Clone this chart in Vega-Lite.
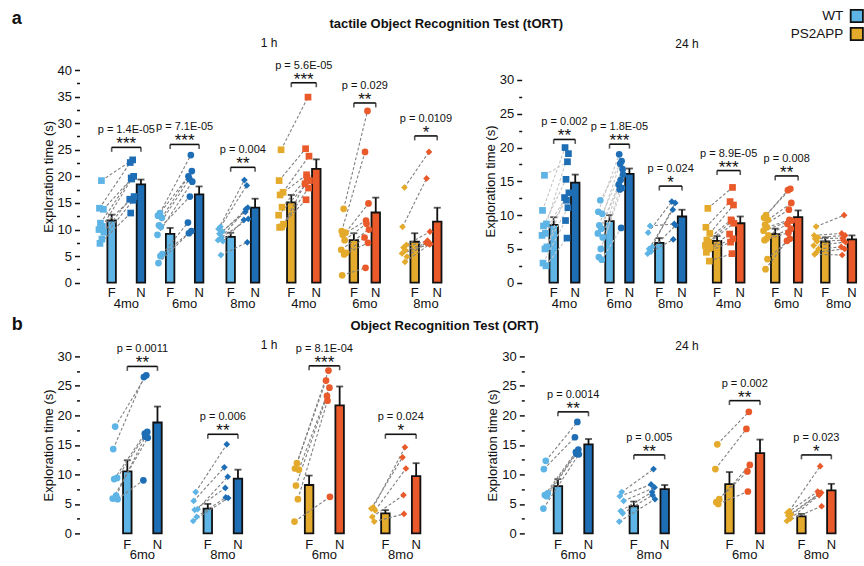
{
"$schema":"https://vega.github.io/schema/vega-lite/v6.json",
"autosize":{"type":"none"},
"padding":{"left":79.5,"top":70,"right":784.5,"bottom":496},
"bounds":"full",
"spacing":3.4,
"config":{"view":{"stroke":null},"font":"Liberation Sans","axis":{"grid":false},"title":{"color":"#111"}},
"datasets":{
"bars":[
{"p":"a1","g":1,"a":"4mo","geno":"WT","c":"F","x":27.9,"y":11.7,"e":12.8},
{"p":"a1","g":1,"a":"4mo","geno":"WT","c":"N","x":58.0,"y":18.5,"e":19.4},
{"p":"a1","g":2,"a":"6mo","geno":"WT","c":"F","x":88.0,"y":9.2,"e":10.3},
{"p":"a1","g":2,"a":"6mo","geno":"WT","c":"N","x":117.8,"y":16.6,"e":18.1},
{"p":"a1","g":3,"a":"8mo","geno":"WT","c":"F","x":150.2,"y":8.6,"e":9.4},
{"p":"a1","g":3,"a":"8mo","geno":"WT","c":"N","x":175.3,"y":14.1,"e":15.8},
{"p":"a1","g":4,"a":"4mo","geno":"PS2APP","c":"F","x":212.5,"y":15.1,"e":16.5},
{"p":"a1","g":4,"a":"4mo","geno":"PS2APP","c":"N","x":238.2,"y":21.4,"e":23.2},
{"p":"a1","g":5,"a":"6mo","geno":"PS2APP","c":"F","x":276.8,"y":8.0,"e":9.3},
{"p":"a1","g":5,"a":"6mo","geno":"PS2APP","c":"N","x":299.3,"y":13.2,"e":16.0},
{"p":"a1","g":6,"a":"8mo","geno":"PS2APP","c":"F","x":339.3,"y":7.7,"e":9.3},
{"p":"a1","g":6,"a":"8mo","geno":"PS2APP","c":"N","x":362.5,"y":11.5,"e":14.1},
{"p":"a24","g":1,"a":"4mo","geno":"WT","c":"F","x":27.8,"y":8.55,"e":9.7},
{"p":"a24","g":1,"a":"4mo","geno":"WT","c":"N","x":50.0,"y":14.8,"e":16.0},
{"p":"a24","g":2,"a":"6mo","geno":"WT","c":"F","x":85.3,"y":9.1,"e":10.0},
{"p":"a24","g":2,"a":"6mo","geno":"WT","c":"N","x":105.8,"y":16.1,"e":16.9},
{"p":"a24","g":3,"a":"8mo","geno":"WT","c":"F","x":136.6,"y":5.9,"e":6.6},
{"p":"a24","g":3,"a":"8mo","geno":"WT","c":"N","x":160.0,"y":9.8,"e":10.8},
{"p":"a24","g":4,"a":"4mo","geno":"PS2APP","c":"F","x":196.1,"y":6.2,"e":6.9},
{"p":"a24","g":4,"a":"4mo","geno":"PS2APP","c":"N","x":220.0,"y":8.8,"e":9.8},
{"p":"a24","g":5,"a":"6mo","geno":"PS2APP","c":"F","x":256.0,"y":7.2,"e":8.0},
{"p":"a24","g":5,"a":"6mo","geno":"PS2APP","c":"N","x":279.6,"y":9.7,"e":10.7},
{"p":"a24","g":6,"a":"8mo","geno":"PS2APP","c":"F","x":307.6,"y":6.1,"e":6.7},
{"p":"a24","g":6,"a":"8mo","geno":"PS2APP","c":"N","x":335.0,"y":6.4,"e":7.0},
{"p":"b1","g":1,"a":"6mo","geno":"WT","c":"F","x":44.0,"y":10.5,"e":12.4},
{"p":"b1","g":1,"a":"6mo","geno":"WT","c":"N","x":75.0,"y":18.8,"e":21.5},
{"p":"b1","g":2,"a":"8mo","geno":"WT","c":"F","x":126.7,"y":4.2,"e":5.0},
{"p":"b1","g":2,"a":"8mo","geno":"WT","c":"N","x":157.7,"y":9.3,"e":10.8},
{"p":"b1","g":3,"a":"6mo","geno":"PS2APP","c":"F","x":230.8,"y":8.2,"e":9.8},
{"p":"b1","g":3,"a":"6mo","geno":"PS2APP","c":"N","x":262.2,"y":21.7,"e":24.9},
{"p":"b1","g":4,"a":"8mo","geno":"PS2APP","c":"F","x":309.2,"y":3.4,"e":3.95},
{"p":"b1","g":4,"a":"8mo","geno":"PS2APP","c":"N","x":340.8,"y":9.7,"e":11.9},
{"p":"b24","g":1,"a":"6mo","geno":"WT","c":"F","x":29.5,"y":8.0,"e":9.2},
{"p":"b24","g":1,"a":"6mo","geno":"WT","c":"N","x":61.0,"y":15.1,"e":16.0},
{"p":"b24","g":2,"a":"8mo","geno":"WT","c":"F","x":107.7,"y":4.6,"e":5.4},
{"p":"b24","g":2,"a":"8mo","geno":"WT","c":"N","x":139.5,"y":7.5,"e":8.2},
{"p":"b24","g":3,"a":"6mo","geno":"PS2APP","c":"F","x":206.2,"y":8.35,"e":10.4},
{"p":"b24","g":3,"a":"6mo","geno":"PS2APP","c":"N","x":237.7,"y":13.6,"e":15.9},
{"p":"b24","g":4,"a":"8mo","geno":"PS2APP","c":"F","x":280.4,"y":2.9,"e":3.3},
{"p":"b24","g":4,"a":"8mo","geno":"PS2APP","c":"N","x":311.2,"y":7.3,"e":8.4}
],
"an":[
{"p":"a1","g":1,"a":"4mo","geno":"WT","xf":17.4,"f":19.2,"xn":49.5,"n":23.1},
{"p":"a1","g":1,"a":"4mo","geno":"WT","xf":15.4,"f":14.0,"xn":47.0,"n":22.6},
{"p":"a1","g":1,"a":"4mo","geno":"WT","xf":19.4,"f":13.8,"xn":50.5,"n":20.0},
{"p":"a1","g":1,"a":"4mo","geno":"WT","xf":16.4,"f":11.2,"xn":48.0,"n":19.7},
{"p":"a1","g":1,"a":"4mo","geno":"WT","xf":18.4,"f":10.6,"xn":48.5,"n":19.5},
{"p":"a1","g":1,"a":"4mo","geno":"WT","xf":14.9,"f":10.0,"xn":51.0,"n":16.2},
{"p":"a1","g":1,"a":"4mo","geno":"WT","xf":19.9,"f":9.5,"xn":46.5,"n":15.7},
{"p":"a1","g":1,"a":"4mo","geno":"WT","xf":17.9,"f":8.2,"xn":50.0,"n":15.5},
{"p":"a1","g":1,"a":"4mo","geno":"WT","xf":15.9,"f":7.4,"xn":47.5,"n":13.1},
{"p":"a1","g":2,"a":"6mo","geno":"WT","xf":77.5,"f":13.1,"xn":109.3,"n":24.0},
{"p":"a1","g":2,"a":"6mo","geno":"WT","xf":75.5,"f":12.6,"xn":106.8,"n":20.0},
{"p":"a1","g":2,"a":"6mo","geno":"WT","xf":79.5,"f":12.2,"xn":110.3,"n":21.0},
{"p":"a1","g":2,"a":"6mo","geno":"WT","xf":76.5,"f":10.8,"xn":107.8,"n":19.5},
{"p":"a1","g":2,"a":"6mo","geno":"WT","xf":78.5,"f":10.5,"xn":108.3,"n":16.2},
{"p":"a1","g":2,"a":"6mo","geno":"WT","xf":75.0,"f":9.0,"xn":110.8,"n":19.0},
{"p":"a1","g":2,"a":"6mo","geno":"WT","xf":80.0,"f":5.4,"xn":106.3,"n":11.3},
{"p":"a1","g":2,"a":"6mo","geno":"WT","xf":78.0,"f":5.0,"xn":109.8,"n":9.7},
{"p":"a1","g":2,"a":"6mo","geno":"WT","xf":76.0,"f":3.7,"xn":107.3,"n":9.3},
{"p":"a1","g":3,"a":"8mo","geno":"WT","xf":139.7,"f":10.5,"xn":166.8,"n":18.3},
{"p":"a1","g":3,"a":"8mo","geno":"WT","xf":137.7,"f":10.1,"xn":164.3,"n":19.3},
{"p":"a1","g":3,"a":"8mo","geno":"WT","xf":141.7,"f":9.6,"xn":167.8,"n":14.1},
{"p":"a1","g":3,"a":"8mo","geno":"WT","xf":138.7,"f":9.2,"xn":165.3,"n":13.3},
{"p":"a1","g":3,"a":"8mo","geno":"WT","xf":140.7,"f":8.5,"xn":165.8,"n":13.8},
{"p":"a1","g":3,"a":"8mo","geno":"WT","xf":137.2,"f":8.0,"xn":168.3,"n":12.0},
{"p":"a1","g":3,"a":"8mo","geno":"WT","xf":142.2,"f":7.8,"xn":163.8,"n":11.8},
{"p":"a1","g":3,"a":"8mo","geno":"WT","xf":140.2,"f":5.2,"xn":167.3,"n":7.6},
{"p":"a1","g":4,"a":"4mo","geno":"PS2APP","xf":202.0,"f":25.0,"xn":229.7,"n":34.9},
{"p":"a1","g":4,"a":"4mo","geno":"PS2APP","xf":200.0,"f":19.2,"xn":227.2,"n":25.2},
{"p":"a1","g":4,"a":"4mo","geno":"PS2APP","xf":204.0,"f":17.0,"xn":230.7,"n":23.8},
{"p":"a1","g":4,"a":"4mo","geno":"PS2APP","xf":201.0,"f":16.5,"xn":228.2,"n":20.3},
{"p":"a1","g":4,"a":"4mo","geno":"PS2APP","xf":203.0,"f":14.2,"xn":228.7,"n":19.7},
{"p":"a1","g":4,"a":"4mo","geno":"PS2APP","xf":199.5,"f":12.7,"xn":231.2,"n":19.2},
{"p":"a1","g":4,"a":"4mo","geno":"PS2APP","xf":204.5,"f":11.0,"xn":226.7,"n":18.6},
{"p":"a1","g":4,"a":"4mo","geno":"PS2APP","xf":202.5,"f":10.5,"xn":230.2,"n":17.8},
{"p":"a1","g":4,"a":"4mo","geno":"PS2APP","xf":200.5,"f":10.4,"xn":227.7,"n":15.6},
{"p":"a1","g":5,"a":"6mo","geno":"PS2APP","xf":266.3,"f":13.9,"xn":290.8,"n":32.3},
{"p":"a1","g":5,"a":"6mo","geno":"PS2APP","xf":264.3,"f":9.7,"xn":288.3,"n":24.6},
{"p":"a1","g":5,"a":"6mo","geno":"PS2APP","xf":268.3,"f":9.4,"xn":291.8,"n":14.9},
{"p":"a1","g":5,"a":"6mo","geno":"PS2APP","xf":265.3,"f":9.0,"xn":289.3,"n":11.7},
{"p":"a1","g":5,"a":"6mo","geno":"PS2APP","xf":267.3,"f":8.0,"xn":289.8,"n":11.1},
{"p":"a1","g":5,"a":"6mo","geno":"PS2APP","xf":263.8,"f":6.2,"xn":292.3,"n":10.0},
{"p":"a1","g":5,"a":"6mo","geno":"PS2APP","xf":268.8,"f":5.6,"xn":287.8,"n":8.5},
{"p":"a1","g":5,"a":"6mo","geno":"PS2APP","xf":266.8,"f":5.3,"xn":291.3,"n":7.5},
{"p":"a1","g":5,"a":"6mo","geno":"PS2APP","xf":264.8,"f":1.4,"xn":288.8,"n":2.8},
{"p":"a1","g":6,"a":"8mo","geno":"PS2APP","xf":328.8,"f":17.9,"xn":354.0,"n":24.6},
{"p":"a1","g":6,"a":"8mo","geno":"PS2APP","xf":326.8,"f":10.5,"xn":351.5,"n":19.6},
{"p":"a1","g":6,"a":"8mo","geno":"PS2APP","xf":330.8,"f":7.1,"xn":355.0,"n":9.6},
{"p":"a1","g":6,"a":"8mo","geno":"PS2APP","xf":327.8,"f":6.6,"xn":352.5,"n":7.9},
{"p":"a1","g":6,"a":"8mo","geno":"PS2APP","xf":329.8,"f":6.1,"xn":353.0,"n":7.5},
{"p":"a1","g":6,"a":"8mo","geno":"PS2APP","xf":326.3,"f":5.5,"xn":355.5,"n":7.3},
{"p":"a1","g":6,"a":"8mo","geno":"PS2APP","xf":331.3,"f":4.9,"xn":351.0,"n":7.5},
{"p":"a1","g":6,"a":"8mo","geno":"PS2APP","xf":329.3,"f":3.9,"xn":354.5,"n":7.2},
{"p":"a24","g":1,"a":"4mo","geno":"WT","xf":18.3,"f":15.9,"xn":42.0,"n":17.9},
{"p":"a24","g":1,"a":"4mo","geno":"WT","xf":16.3,"f":10.7,"xn":39.5,"n":20.0},
{"p":"a24","g":1,"a":"4mo","geno":"WT","xf":20.3,"f":8.7,"xn":43.0,"n":19.1},
{"p":"a24","g":1,"a":"4mo","geno":"WT","xf":17.3,"f":8.4,"xn":40.5,"n":15.3},
{"p":"a24","g":1,"a":"4mo","geno":"WT","xf":19.3,"f":7.3,"xn":41.0,"n":12.2},
{"p":"a24","g":1,"a":"4mo","geno":"WT","xf":15.8,"f":7.0,"xn":43.5,"n":13.3},
{"p":"a24","g":1,"a":"4mo","geno":"WT","xf":20.8,"f":5.3,"xn":39.0,"n":12.6},
{"p":"a24","g":1,"a":"4mo","geno":"WT","xf":18.8,"f":5.0,"xn":42.5,"n":11.1},
{"p":"a24","g":1,"a":"4mo","geno":"WT","xf":16.8,"f":2.9,"xn":40.0,"n":9.2},
{"p":"a24","g":1,"a":"4mo","geno":"WT","xf":19.8,"f":2.5,"xn":41.5,"n":6.6},
{"p":"a24","g":2,"a":"6mo","geno":"WT","xf":75.8,"f":12.2,"xn":97.8,"n":18.0},
{"p":"a24","g":2,"a":"6mo","geno":"WT","xf":73.8,"f":10.5,"xn":95.3,"n":19.0},
{"p":"a24","g":2,"a":"6mo","geno":"WT","xf":77.8,"f":10.2,"xn":98.8,"n":16.8},
{"p":"a24","g":2,"a":"6mo","geno":"WT","xf":74.8,"f":8.5,"xn":96.3,"n":17.6},
{"p":"a24","g":2,"a":"6mo","geno":"WT","xf":76.8,"f":8.0,"xn":96.8,"n":15.2},
{"p":"a24","g":2,"a":"6mo","geno":"WT","xf":73.3,"f":7.3,"xn":99.3,"n":16.0},
{"p":"a24","g":2,"a":"6mo","geno":"WT","xf":78.3,"f":6.7,"xn":94.8,"n":14.5},
{"p":"a24","g":2,"a":"6mo","geno":"WT","xf":76.3,"f":5.0,"xn":98.3,"n":14.0},
{"p":"a24","g":2,"a":"6mo","geno":"WT","xf":74.3,"f":3.8,"xn":95.8,"n":13.8},
{"p":"a24","g":2,"a":"6mo","geno":"WT","xf":77.3,"f":3.4,"xn":97.3,"n":8.1},
{"p":"a24","g":3,"a":"8mo","geno":"WT","xf":127.1,"f":8.4,"xn":152.0,"n":8.7},
{"p":"a24","g":3,"a":"8mo","geno":"WT","xf":125.1,"f":7.4,"xn":149.5,"n":12.0},
{"p":"a24","g":3,"a":"8mo","geno":"WT","xf":129.1,"f":5.3,"xn":153.0,"n":11.8},
{"p":"a24","g":3,"a":"8mo","geno":"WT","xf":126.1,"f":5.0,"xn":150.5,"n":10.8},
{"p":"a24","g":3,"a":"8mo","geno":"WT","xf":128.1,"f":4.6,"xn":151.0,"n":6.4},
{"p":"a24","g":3,"a":"8mo","geno":"WT","xf":124.6,"f":4.3,"xn":153.5,"n":8.5},
{"p":"a24","g":4,"a":"4mo","geno":"PS2APP","xf":186.6,"f":11.0,"xn":212.0,"n":14.1},
{"p":"a24","g":4,"a":"4mo","geno":"PS2APP","xf":184.6,"f":8.2,"xn":209.5,"n":12.0},
{"p":"a24","g":4,"a":"4mo","geno":"PS2APP","xf":188.6,"f":7.3,"xn":213.0,"n":11.5},
{"p":"a24","g":4,"a":"4mo","geno":"PS2APP","xf":185.6,"f":6.3,"xn":210.5,"n":9.3},
{"p":"a24","g":4,"a":"4mo","geno":"PS2APP","xf":187.6,"f":6.0,"xn":211.0,"n":9.1},
{"p":"a24","g":4,"a":"4mo","geno":"PS2APP","xf":184.1,"f":5.5,"xn":213.5,"n":8.8},
{"p":"a24","g":4,"a":"4mo","geno":"PS2APP","xf":189.1,"f":5.2,"xn":209.0,"n":7.2},
{"p":"a24","g":4,"a":"4mo","geno":"PS2APP","xf":187.1,"f":5.0,"xn":212.5,"n":6.5},
{"p":"a24","g":4,"a":"4mo","geno":"PS2APP","xf":185.1,"f":4.5,"xn":210.0,"n":6.0},
{"p":"a24","g":4,"a":"4mo","geno":"PS2APP","xf":188.1,"f":3.2,"xn":211.5,"n":4.3},
{"p":"a24","g":5,"a":"6mo","geno":"PS2APP","xf":246.5,"f":10.0,"xn":271.6,"n":13.9},
{"p":"a24","g":5,"a":"6mo","geno":"PS2APP","xf":244.5,"f":9.6,"xn":269.1,"n":13.7},
{"p":"a24","g":5,"a":"6mo","geno":"PS2APP","xf":248.5,"f":9.3,"xn":272.6,"n":11.8},
{"p":"a24","g":5,"a":"6mo","geno":"PS2APP","xf":245.5,"f":8.6,"xn":270.1,"n":10.8},
{"p":"a24","g":5,"a":"6mo","geno":"PS2APP","xf":247.5,"f":8.2,"xn":270.6,"n":9.3},
{"p":"a24","g":5,"a":"6mo","geno":"PS2APP","xf":244.0,"f":7.7,"xn":273.1,"n":9.2},
{"p":"a24","g":5,"a":"6mo","geno":"PS2APP","xf":249.0,"f":7.0,"xn":268.6,"n":8.7},
{"p":"a24","g":5,"a":"6mo","geno":"PS2APP","xf":247.0,"f":6.5,"xn":272.1,"n":8.0},
{"p":"a24","g":5,"a":"6mo","geno":"PS2APP","xf":245.0,"f":6.3,"xn":269.6,"n":7.4},
{"p":"a24","g":5,"a":"6mo","geno":"PS2APP","xf":248.0,"f":3.5,"xn":271.1,"n":6.5},
{"p":"a24","g":5,"a":"6mo","geno":"PS2APP","xf":246.0,"f":2.0,"xn":268.1,"n":6.2},
{"p":"a24","g":6,"a":"8mo","geno":"PS2APP","xf":298.1,"f":8.3,"xn":327.0,"n":10.0},
{"p":"a24","g":6,"a":"8mo","geno":"PS2APP","xf":296.1,"f":7.0,"xn":324.5,"n":7.3},
{"p":"a24","g":6,"a":"8mo","geno":"PS2APP","xf":300.1,"f":6.7,"xn":328.0,"n":7.0},
{"p":"a24","g":6,"a":"8mo","geno":"PS2APP","xf":297.1,"f":6.5,"xn":325.5,"n":6.6},
{"p":"a24","g":6,"a":"8mo","geno":"PS2APP","xf":299.1,"f":6.1,"xn":326.0,"n":6.3},
{"p":"a24","g":6,"a":"8mo","geno":"PS2APP","xf":295.6,"f":5.5,"xn":328.5,"n":6.0},
{"p":"a24","g":6,"a":"8mo","geno":"PS2APP","xf":300.6,"f":5.0,"xn":324.0,"n":5.3},
{"p":"a24","g":6,"a":"8mo","geno":"PS2APP","xf":298.6,"f":4.5,"xn":327.5,"n":5.0},
{"p":"a24","g":6,"a":"8mo","geno":"PS2APP","xf":296.6,"f":4.2,"xn":325.0,"n":4.1},
{"p":"b1","g":1,"a":"6mo","geno":"WT","xf":31.5,"f":18.1,"xn":63.5,"n":26.8},
{"p":"b1","g":1,"a":"6mo","geno":"WT","xf":29.5,"f":14.3,"xn":61.0,"n":26.5},
{"p":"b1","g":1,"a":"6mo","geno":"WT","xf":33.5,"f":9.4,"xn":64.5,"n":17.2},
{"p":"b1","g":1,"a":"6mo","geno":"WT","xf":30.5,"f":9.2,"xn":62.0,"n":16.9},
{"p":"b1","g":1,"a":"6mo","geno":"WT","xf":32.5,"f":6.4,"xn":62.5,"n":16.4},
{"p":"b1","g":1,"a":"6mo","geno":"WT","xf":29.0,"f":5.9,"xn":65.0,"n":16.2},
{"p":"b1","g":1,"a":"6mo","geno":"WT","xf":34.0,"f":5.8,"xn":60.5,"n":9.0},
{"p":"b1","g":2,"a":"8mo","geno":"WT","xf":114.2,"f":7.0,"xn":146.2,"n":15.1},
{"p":"b1","g":2,"a":"8mo","geno":"WT","xf":112.2,"f":5.5,"xn":143.7,"n":11.2},
{"p":"b1","g":2,"a":"8mo","geno":"WT","xf":116.2,"f":4.1,"xn":147.2,"n":9.6},
{"p":"b1","g":2,"a":"8mo","geno":"WT","xf":113.2,"f":4.0,"xn":144.7,"n":7.7},
{"p":"b1","g":2,"a":"8mo","geno":"WT","xf":115.2,"f":2.8,"xn":145.2,"n":6.1},
{"p":"b1","g":2,"a":"8mo","geno":"WT","xf":111.7,"f":2.1,"xn":147.7,"n":6.0},
{"p":"b1","g":3,"a":"6mo","geno":"PS2APP","xf":218.3,"f":11.9,"xn":250.7,"n":27.6},
{"p":"b1","g":3,"a":"6mo","geno":"PS2APP","xf":216.3,"f":11.0,"xn":248.2,"n":25.9},
{"p":"b1","g":3,"a":"6mo","geno":"PS2APP","xf":220.3,"f":10.8,"xn":251.7,"n":24.7},
{"p":"b1","g":3,"a":"6mo","geno":"PS2APP","xf":217.3,"f":8.1,"xn":249.2,"n":23.3},
{"p":"b1","g":3,"a":"6mo","geno":"PS2APP","xf":219.3,"f":5.8,"xn":249.7,"n":22.5},
{"p":"b1","g":3,"a":"6mo","geno":"PS2APP","xf":215.8,"f":2.0,"xn":252.2,"n":6.2},
{"p":"b1","g":4,"a":"8mo","geno":"PS2APP","xf":296.7,"f":4.4,"xn":329.3,"n":14.6},
{"p":"b1","g":4,"a":"8mo","geno":"PS2APP","xf":294.7,"f":4.2,"xn":326.8,"n":12.9},
{"p":"b1","g":4,"a":"8mo","geno":"PS2APP","xf":298.7,"f":3.9,"xn":330.3,"n":11.0},
{"p":"b1","g":4,"a":"8mo","geno":"PS2APP","xf":295.7,"f":2.8,"xn":327.8,"n":6.5},
{"p":"b1","g":4,"a":"8mo","geno":"PS2APP","xf":297.7,"f":2.0,"xn":328.3,"n":3.3},
{"p":"b24","g":1,"a":"6mo","geno":"WT","xf":17.0,"f":12.3,"xn":49.5,"n":18.9},
{"p":"b24","g":1,"a":"6mo","geno":"WT","xf":15.0,"f":10.9,"xn":47.0,"n":16.3},
{"p":"b24","g":1,"a":"6mo","geno":"WT","xf":19.0,"f":6.8,"xn":50.5,"n":14.2},
{"p":"b24","g":1,"a":"6mo","geno":"WT","xf":16.0,"f":6.5,"xn":48.0,"n":13.8},
{"p":"b24","g":1,"a":"6mo","geno":"WT","xf":18.0,"f":6.3,"xn":48.5,"n":13.5},
{"p":"b24","g":1,"a":"6mo","geno":"WT","xf":14.5,"f":4.2,"xn":51.0,"n":13.4},
{"p":"b24","g":2,"a":"8mo","geno":"WT","xf":95.2,"f":7.0,"xn":128.0,"n":10.9},
{"p":"b24","g":2,"a":"8mo","geno":"WT","xf":93.2,"f":6.3,"xn":125.5,"n":8.3},
{"p":"b24","g":2,"a":"8mo","geno":"WT","xf":97.2,"f":5.5,"xn":129.0,"n":7.8},
{"p":"b24","g":2,"a":"8mo","geno":"WT","xf":94.2,"f":3.8,"xn":126.5,"n":7.0},
{"p":"b24","g":2,"a":"8mo","geno":"WT","xf":96.2,"f":3.4,"xn":127.0,"n":6.5},
{"p":"b24","g":2,"a":"8mo","geno":"WT","xf":92.7,"f":2.0,"xn":129.5,"n":5.8},
{"p":"b24","g":3,"a":"6mo","geno":"PS2APP","xf":193.7,"f":15.1,"xn":226.2,"n":20.6},
{"p":"b24","g":3,"a":"6mo","geno":"PS2APP","xf":191.7,"f":10.9,"xn":223.7,"n":17.7},
{"p":"b24","g":3,"a":"6mo","geno":"PS2APP","xf":195.7,"f":5.8,"xn":227.2,"n":11.6},
{"p":"b24","g":3,"a":"6mo","geno":"PS2APP","xf":192.7,"f":5.3,"xn":224.7,"n":10.5},
{"p":"b24","g":3,"a":"6mo","geno":"PS2APP","xf":194.7,"f":5.0,"xn":225.2,"n":7.1},
{"p":"b24","g":4,"a":"8mo","geno":"PS2APP","xf":267.9,"f":3.8,"xn":299.7,"n":11.4},
{"p":"b24","g":4,"a":"8mo","geno":"PS2APP","xf":265.9,"f":3.5,"xn":297.2,"n":7.1},
{"p":"b24","g":4,"a":"8mo","geno":"PS2APP","xf":269.9,"f":3.2,"xn":300.7,"n":6.9},
{"p":"b24","g":4,"a":"8mo","geno":"PS2APP","xf":266.9,"f":3.0,"xn":298.2,"n":6.7},
{"p":"b24","g":4,"a":"8mo","geno":"PS2APP","xf":268.9,"f":2.5,"xn":298.7,"n":6.5},
{"p":"b24","g":4,"a":"8mo","geno":"PS2APP","xf":265.4,"f":2.1,"xn":301.2,"n":4.6}
],
"sig":[
{"p":"a1","x1":27.9,"x2":58.0,"y":25.45,"s":"***","t":"p = 1.4E-05"},
{"p":"a1","x1":88.0,"x2":117.8,"y":26.0,"s":"***","t":"p = 7.1E-05"},
{"p":"a1","x1":150.2,"x2":175.3,"y":21.7,"s":"**","t":"p = 0.004"},
{"p":"a1","x1":212.5,"x2":238.2,"y":37.6,"s":"***","t":"p = 5.6E-05"},
{"p":"a1","x1":276.8,"x2":299.3,"y":33.8,"s":"**","t":"p = 0.029"},
{"p":"a1","x1":339.3,"x2":362.5,"y":27.6,"s":"*","t":"p = 0.0109"},
{"p":"a24","x1":27.8,"x2":50.0,"y":21.2,"s":"**","t":"p = 0.002"},
{"p":"a24","x1":85.3,"x2":105.8,"y":20.5,"s":"***","t":"p = 1.8E-05"},
{"p":"a24","x1":136.6,"x2":160.0,"y":14.3,"s":"*","t":"p = 0.024"},
{"p":"a24","x1":196.1,"x2":220.0,"y":16.6,"s":"***","t":"p = 8.9E-05"},
{"p":"a24","x1":256.0,"x2":279.6,"y":15.8,"s":"**","t":"p = 0.008"},
{"p":"b1","x1":44.0,"x2":75.0,"y":28.3,"s":"**","t":"p = 0.0011"},
{"p":"b1","x1":126.7,"x2":157.7,"y":16.8,"s":"**","t":"p = 0.006"},
{"p":"b1","x1":230.8,"x2":262.2,"y":28.4,"s":"***","t":"p = 8.1E-04"},
{"p":"b1","x1":309.2,"x2":340.8,"y":16.8,"s":"*","t":"p = 0.024"},
{"p":"b24","x1":29.5,"x2":61.0,"y":20.6,"s":"**","t":"p = 0.0014"},
{"p":"b24","x1":107.7,"x2":139.5,"y":13.3,"s":"**","t":"p = 0.005"},
{"p":"b24","x1":206.2,"x2":237.7,"y":22.5,"s":"**","t":"p = 0.002"},
{"p":"b24","x1":280.4,"x2":311.2,"y":13.3,"s":"*","t":"p = 0.023"}
]
},
"vconcat":[
{"title":{"text":"a","anchor":"start","frame":"group","fontSize":18,"fontWeight":"bold","dx":-67.8,"dy":10,"offset":0},
 "bounds":"flush",
 "vconcat":[
 {"title":{"text":"tactile Object Recognition Test (tORT)","anchor":"middle","frame":"bounds","fontSize":13,"fontWeight":"bold","dx":-6.6,"offset":6},
  "bounds":"flush","spacing":70.2,
  "hconcat":[
  {"width":372,"height":212.7,
   "title":{"text":"1 h","fontSize":12,"fontWeight":"normal","anchor":"middle","frame":"group","offset":11,"dx":3.5,"dy":1.7},
   "resolve":{"axis":{"y":"independent"}},
   "encoding":{"x":{"field":"x","type":"quantitative","scale":{"domain":[0,372],"nice":false,"zero":false},"axis":null},
               "y":{"field":"y","type":"quantitative","scale":{"domain":[0,40],"nice":false,"zero":true},"axis":null}},
   "layer":[
    {"data":{"values":[{}]},"mark":{"type":"rule","strokeWidth":1.8,"color":"#111"},
     "encoding":{"x":{"datum":0,"axis":null},"y":{"datum":0,"axis":{"orient":"left","values":[0,5,10,15,20,25,30,35,40],"domain":false,"grid":false,"tickSize":5,"tickWidth":1.5,"tickColor":"#111","labelFontSize":13,"labelColor":"#111","labelPadding":3,"title":"Exploration time (s)","titleFontSize":13,"titleFontWeight":"normal","titleColor":"#111","titlePadding":2}},"y2":{"datum":40}}},
    {"data":{"name":"bars"},"transform":[{"filter":"datum.p=='a1' && datum.c=='F'"}],
     "mark":{"type":"bar","width":8.5,"stroke":"#111","strokeWidth":1.8},
     "encoding":{"y":{"field":"y","type":"quantitative","axis":{"orient":"left","values":[2.5,7.5,12.5,17.5,22.5,27.5,32.5,37.5],"domain":false,"grid":false,"labels":false,"tickSize":3,"tickWidth":1.5,"tickColor":"#111","title":null}},
       "fill":{"field":"geno","type":"nominal","scale":{"domain":["WT","PS2APP"],"range":["#5DB4E5","#E4AA2B"]},"legend":{"title":null,"orient":"none","legendX":769.8,"legendY":-61.5,"direction":"vertical","symbolType":"square","symbolSize":150,"symbolStrokeColor":"#111","symbolStrokeWidth":1.8,"symbolOpacity":1,"labelFontSize":13.5,"labelColor":"#111","labelAlign":"right","labelOffset":-21,"rowPadding":-5.3,"padding":0}}}},
    {"data":{"name":"bars"},"transform":[{"filter":"datum.p=='a1' && datum.c=='N'"}],
     "mark":{"type":"bar","width":8.5,"stroke":"#111","strokeWidth":1.8},
     "encoding":{"color":{"field":"geno","type":"nominal","scale":{"domain":["WT","PS2APP"],"range":["#1E6EB6","#E9592A"]},"legend":null}}},
    {"data":{"name":"bars"},"transform":[{"filter":"datum.p=='a1'"}],
     "mark":{"type":"rule","strokeWidth":1.8,"color":"#111"},"encoding":{"y2":{"field":"e"}}},
    {"data":{"name":"bars"},"transform":[{"filter":"datum.p=='a1'"}],
     "mark":{"type":"tick","orient":"horizontal","size":7,"thickness":1.8,"color":"#111"},
     "encoding":{"y":{"field":"e","type":"quantitative","axis":null}}},
    {"data":{"name":"an"},"transform":[{"filter":"datum.p=='a1'"}],
     "mark":{"type":"rule","strokeDash":[3,2],"strokeWidth":1.1,"color":"#808080"},
     "encoding":{"x":{"field":"xf","type":"quantitative","axis":null},"y":{"field":"f","type":"quantitative","axis":null},"x2":{"field":"xn"},"y2":{"field":"n"}}},
    {"data":{"name":"an"},"transform":[{"filter":"datum.p=='a1'"}],
     "mark":{"type":"point","filled":true,"opacity":1,"strokeWidth":0},
     "encoding":{"x":{"field":"xf","type":"quantitative","axis":null},"y":{"field":"f","type":"quantitative","axis":null},
       "shape":{"field":"a","type":"nominal","scale":{"domain":["4mo","6mo","8mo"],"range":["square","circle","diamond"]},"legend":null},
       "size":{"field":"a","type":"ordinal","scale":{"domain":["4mo","6mo","8mo"],"range":[45,45,70]},"legend":null},
       "fill":{"field":"geno","type":"nominal","scale":{"domain":["WT","PS2APP"],"range":["#5DB4E5","#E4AA2B"]},"legend":{"title":null,"orient":"none","legendX":769.8,"legendY":-61.5,"direction":"vertical","symbolType":"square","symbolSize":150,"symbolStrokeColor":"#111","symbolStrokeWidth":1.8,"symbolOpacity":1,"labelFontSize":13.5,"labelColor":"#111","labelAlign":"right","labelOffset":-21,"rowPadding":-5.3,"padding":0}}}},
    {"data":{"name":"an"},"transform":[{"filter":"datum.p=='a1'"}],
     "mark":{"type":"point","filled":true,"opacity":1,"strokeWidth":0},
     "encoding":{"x":{"field":"xn","type":"quantitative","axis":null},"y":{"field":"n","type":"quantitative","axis":null},
       "shape":{"field":"a","type":"nominal","scale":{"domain":["4mo","6mo","8mo"],"range":["square","circle","diamond"]},"legend":null},
       "size":{"field":"a","type":"ordinal","scale":{"domain":["4mo","6mo","8mo"],"range":[45,45,70]},"legend":null},
       "color":{"field":"geno","type":"nominal","scale":{"domain":["WT","PS2APP"],"range":["#1E6EB6","#E9592A"]},"legend":null}}},
    {"data":{"name":"sig"},"transform":[{"filter":"datum.p=='a1'"}],
     "mark":{"type":"rule","strokeWidth":1.6,"color":"#111"},
     "encoding":{"x":{"field":"x1","type":"quantitative","axis":null},"x2":{"field":"x2"}}},
    {"data":{"name":"sig"},"transform":[{"filter":"datum.p=='a1'"},{"fold":["x1","x2"],"as":["k","xe"]}],
     "mark":{"type":"tick","orient":"vertical","size":4.5,"thickness":1.6,"yOffset":2.2,"color":"#111"},
     "encoding":{"x":{"field":"xe","type":"quantitative","axis":null}}},
    {"data":{"name":"sig"},"transform":[{"filter":"datum.p=='a1'"},{"calculate":"(datum.x1+datum.x2)/2","as":"xm"}],
     "mark":{"type":"text","fontSize":17,"dy":2,"baseline":"alphabetic","color":"#111"},
     "encoding":{"x":{"field":"xm","type":"quantitative","axis":null},"text":{"field":"s"}}},
    {"data":{"name":"sig"},"transform":[{"filter":"datum.p=='a1'"},{"calculate":"(datum.x1+datum.x2)/2","as":"xm"}],
     "mark":{"type":"text","fontSize":11,"dy":-14,"baseline":"alphabetic","color":"#111"},
     "encoding":{"x":{"field":"xm","type":"quantitative","axis":null},"text":{"field":"t"}}},
    {"data":{"name":"bars"},"transform":[{"filter":"datum.p=='a1'"}],
     "mark":{"type":"text","fontSize":13,"dy":14.5,"baseline":"alphabetic","color":"#111"},
     "encoding":{"y":{"datum":0,"axis":null},"text":{"field":"c"}}},
    {"data":{"name":"bars"},"transform":[{"filter":"datum.p=='a1'"},{"joinaggregate":[{"op":"mean","field":"x","as":"xa"}],"groupby":["g"]},{"filter":"datum.c=='F'"}],
     "mark":{"type":"text","fontSize":13,"dy":25.7,"baseline":"alphabetic","color":"#111"},
     "encoding":{"x":{"field":"xa","type":"quantitative","axis":null},"y":{"datum":0,"axis":null},"text":{"field":"a"}}}
   ]},
  {"width":342,"height":212.7,
   "title":{"text":"24 h","fontSize":12,"fontWeight":"normal","anchor":"middle","frame":"group","offset":21,"dx":-5.7,"dy":1.7},
   "resolve":{"axis":{"y":"independent"}},
   "encoding":{"x":{"field":"x","type":"quantitative","scale":{"domain":[0,342],"nice":false,"zero":false},"axis":null},
               "y":{"field":"y","type":"quantitative","scale":{"domain":[0,31.48],"nice":false,"zero":true},"axis":null}},
   "layer":[
    {"data":{"values":[{}]},"mark":{"type":"rule","strokeWidth":1.8,"color":"#111"},
     "encoding":{"x":{"datum":0,"axis":null},"y":{"datum":0,"axis":{"orient":"left","values":[0,5,10,15,20,25,30],"domain":false,"grid":false,"tickSize":5,"tickWidth":1.5,"tickColor":"#111","labelFontSize":13,"labelColor":"#111","labelPadding":3,"title":"Exploration time (s)","titleFontSize":13,"titleFontWeight":"normal","titleColor":"#111","titlePadding":2,"titleY":111}},"y2":{"datum":30}}},
    {"data":{"name":"bars"},"transform":[{"filter":"datum.p=='a24' && datum.c=='F'"}],
     "mark":{"type":"bar","width":8.5,"stroke":"#111","strokeWidth":1.8},
     "encoding":{"y":{"field":"y","type":"quantitative","axis":{"orient":"left","values":[2.5,7.5,12.5,17.5,22.5,27.5],"domain":false,"grid":false,"labels":false,"tickSize":3,"tickWidth":1.5,"tickColor":"#111","title":null}},
       "fill":{"field":"geno","type":"nominal","scale":{"domain":["WT","PS2APP"],"range":["#5DB4E5","#E4AA2B"]},"legend":{"title":null,"orient":"none","legendX":769.8,"legendY":-61.5,"direction":"vertical","symbolType":"square","symbolSize":150,"symbolStrokeColor":"#111","symbolStrokeWidth":1.8,"symbolOpacity":1,"labelFontSize":13.5,"labelColor":"#111","labelAlign":"right","labelOffset":-21,"rowPadding":-5.3,"padding":0}}}},
    {"data":{"name":"bars"},"transform":[{"filter":"datum.p=='a24' && datum.c=='N'"}],
     "mark":{"type":"bar","width":8.5,"stroke":"#111","strokeWidth":1.8},
     "encoding":{"color":{"field":"geno","type":"nominal","scale":{"domain":["WT","PS2APP"],"range":["#1E6EB6","#E9592A"]},"legend":null}}},
    {"data":{"name":"bars"},"transform":[{"filter":"datum.p=='a24'"}],
     "mark":{"type":"rule","strokeWidth":1.8,"color":"#111"},"encoding":{"y2":{"field":"e"}}},
    {"data":{"name":"bars"},"transform":[{"filter":"datum.p=='a24'"}],
     "mark":{"type":"tick","orient":"horizontal","size":7,"thickness":1.8,"color":"#111"},
     "encoding":{"y":{"field":"e","type":"quantitative","axis":null}}},
    {"data":{"name":"an"},"transform":[{"filter":"datum.p=='a24'"}],
     "mark":{"type":"rule","strokeDash":[3,2],"strokeWidth":1.1},
     "encoding":{"x":{"field":"xf","type":"quantitative","axis":null},"y":{"field":"f","type":"quantitative","axis":null},"x2":{"field":"xn"},"y2":{"field":"n"},
       "stroke":{"condition":{"test":"datum.g<=2","value":"#c6c6c6"},"value":"#808080"}}},
    {"data":{"name":"an"},"transform":[{"filter":"datum.p=='a24'"}],
     "mark":{"type":"point","filled":true,"opacity":1,"strokeWidth":0},
     "encoding":{"x":{"field":"xf","type":"quantitative","axis":null},"y":{"field":"f","type":"quantitative","axis":null},
       "shape":{"field":"a","type":"nominal","scale":{"domain":["4mo","6mo","8mo"],"range":["square","circle","diamond"]},"legend":null},
       "size":{"field":"a","type":"ordinal","scale":{"domain":["4mo","6mo","8mo"],"range":[45,45,70]},"legend":null},
       "fill":{"field":"geno","type":"nominal","scale":{"domain":["WT","PS2APP"],"range":["#5DB4E5","#E4AA2B"]},"legend":{"title":null,"orient":"none","legendX":769.8,"legendY":-61.5,"direction":"vertical","symbolType":"square","symbolSize":150,"symbolStrokeColor":"#111","symbolStrokeWidth":1.8,"symbolOpacity":1,"labelFontSize":13.5,"labelColor":"#111","labelAlign":"right","labelOffset":-21,"rowPadding":-5.3,"padding":0}}}},
    {"data":{"name":"an"},"transform":[{"filter":"datum.p=='a24'"}],
     "mark":{"type":"point","filled":true,"opacity":1,"strokeWidth":0},
     "encoding":{"x":{"field":"xn","type":"quantitative","axis":null},"y":{"field":"n","type":"quantitative","axis":null},
       "shape":{"field":"a","type":"nominal","scale":{"domain":["4mo","6mo","8mo"],"range":["square","circle","diamond"]},"legend":null},
       "size":{"field":"a","type":"ordinal","scale":{"domain":["4mo","6mo","8mo"],"range":[45,45,70]},"legend":null},
       "color":{"field":"geno","type":"nominal","scale":{"domain":["WT","PS2APP"],"range":["#1E6EB6","#E9592A"]},"legend":null}}},
    {"data":{"name":"sig"},"transform":[{"filter":"datum.p=='a24'"}],
     "mark":{"type":"rule","strokeWidth":1.6,"color":"#111"},
     "encoding":{"x":{"field":"x1","type":"quantitative","axis":null},"x2":{"field":"x2"}}},
    {"data":{"name":"sig"},"transform":[{"filter":"datum.p=='a24'"},{"fold":["x1","x2"],"as":["k","xe"]}],
     "mark":{"type":"tick","orient":"vertical","size":4.5,"thickness":1.6,"yOffset":2.2,"color":"#111"},
     "encoding":{"x":{"field":"xe","type":"quantitative","axis":null}}},
    {"data":{"name":"sig"},"transform":[{"filter":"datum.p=='a24'"},{"calculate":"(datum.x1+datum.x2)/2","as":"xm"}],
     "mark":{"type":"text","fontSize":17,"dy":2,"baseline":"alphabetic","color":"#111"},
     "encoding":{"x":{"field":"xm","type":"quantitative","axis":null},"text":{"field":"s"}}},
    {"data":{"name":"sig"},"transform":[{"filter":"datum.p=='a24'"},{"calculate":"(datum.x1+datum.x2)/2","as":"xm"}],
     "mark":{"type":"text","fontSize":11,"dy":-14,"baseline":"alphabetic","color":"#111"},
     "encoding":{"x":{"field":"xm","type":"quantitative","axis":null},"text":{"field":"t"}}},
    {"data":{"name":"bars"},"transform":[{"filter":"datum.p=='a24'"}],
     "mark":{"type":"text","fontSize":13,"dy":14.5,"baseline":"alphabetic","color":"#111"},
     "encoding":{"y":{"datum":0,"axis":null},"text":{"field":"c"}}},
    {"data":{"name":"bars"},"transform":[{"filter":"datum.p=='a24'"},{"joinaggregate":[{"op":"mean","field":"x","as":"xa"}],"groupby":["g"]},{"filter":"datum.c=='F'"}],
     "mark":{"type":"text","fontSize":13,"dy":25.7,"baseline":"alphabetic","color":"#111"},
     "encoding":{"x":{"field":"xa","type":"quantitative","axis":null},"y":{"datum":0,"axis":null},"text":{"field":"a"}}}
   ]}
  ]}
 ]},
{"title":{"text":"b","anchor":"start","frame":"group","fontSize":18,"fontWeight":"bold","dx":-67.8,"dy":14,"offset":0},
 "bounds":"flush",
 "vconcat":[
 {"title":{"text":"Object Recognition Test (ORT)","anchor":"middle","frame":"bounds","fontSize":13,"fontWeight":"bold","dx":-8.6,"offset":6},
  "bounds":"flush","spacing":72.8,
  "hconcat":[
  {"width":372,"height":177,
   "title":{"text":"1 h","fontSize":12,"fontWeight":"normal","anchor":"middle","frame":"group","offset":0,"dy":9.4,"dx":3.5},
   "resolve":{"axis":{"y":"independent"}},
   "encoding":{"x":{"field":"x","type":"quantitative","scale":{"domain":[0,372],"nice":false,"zero":false},"axis":null},
               "y":{"field":"y","type":"quantitative","scale":{"domain":[0,30],"nice":false,"zero":true},"axis":null}},
   "layer":[
    {"data":{"values":[{}]},"mark":{"type":"rule","strokeWidth":1.8,"color":"#111"},
     "encoding":{"x":{"datum":0,"axis":null},"y":{"datum":0,"axis":{"orient":"left","values":[0,5,10,15,20,25,30],"domain":false,"grid":false,"tickSize":5,"tickWidth":1.5,"tickColor":"#111","labelFontSize":13,"labelColor":"#111","labelPadding":3,"title":"Exploration time (s)","titleFontSize":13,"titleFontWeight":"normal","titleColor":"#111","titlePadding":2}},"y2":{"datum":30}}},
    {"data":{"name":"bars"},"transform":[{"filter":"datum.p=='b1' && datum.c=='F'"}],
     "mark":{"type":"bar","width":8.5,"stroke":"#111","strokeWidth":1.8},
     "encoding":{"y":{"field":"y","type":"quantitative","axis":{"orient":"left","values":[2.5,7.5,12.5,17.5,22.5,27.5],"domain":false,"grid":false,"labels":false,"tickSize":3,"tickWidth":1.5,"tickColor":"#111","title":null}},
       "fill":{"field":"geno","type":"nominal","scale":{"domain":["WT","PS2APP"],"range":["#5DB4E5","#E4AA2B"]},"legend":{"title":null,"orient":"none","legendX":769.8,"legendY":-61.5,"direction":"vertical","symbolType":"square","symbolSize":150,"symbolStrokeColor":"#111","symbolStrokeWidth":1.8,"symbolOpacity":1,"labelFontSize":13.5,"labelColor":"#111","labelAlign":"right","labelOffset":-21,"rowPadding":-5.3,"padding":0}}}},
    {"data":{"name":"bars"},"transform":[{"filter":"datum.p=='b1' && datum.c=='N'"}],
     "mark":{"type":"bar","width":8.5,"stroke":"#111","strokeWidth":1.8},
     "encoding":{"color":{"field":"geno","type":"nominal","scale":{"domain":["WT","PS2APP"],"range":["#1E6EB6","#E9592A"]},"legend":null}}},
    {"data":{"name":"bars"},"transform":[{"filter":"datum.p=='b1'"}],
     "mark":{"type":"rule","strokeWidth":1.8,"color":"#111"},"encoding":{"y2":{"field":"e"}}},
    {"data":{"name":"bars"},"transform":[{"filter":"datum.p=='b1'"}],
     "mark":{"type":"tick","orient":"horizontal","size":7,"thickness":1.8,"color":"#111"},
     "encoding":{"y":{"field":"e","type":"quantitative","axis":null}}},
    {"data":{"name":"an"},"transform":[{"filter":"datum.p=='b1'"}],
     "mark":{"type":"rule","strokeDash":[3,2],"strokeWidth":1.1,"color":"#808080"},
     "encoding":{"x":{"field":"xf","type":"quantitative","axis":null},"y":{"field":"f","type":"quantitative","axis":null},"x2":{"field":"xn"},"y2":{"field":"n"}}},
    {"data":{"name":"an"},"transform":[{"filter":"datum.p=='b1'"}],
     "mark":{"type":"point","filled":true,"opacity":1,"strokeWidth":0},
     "encoding":{"x":{"field":"xf","type":"quantitative","axis":null},"y":{"field":"f","type":"quantitative","axis":null},
       "shape":{"field":"a","type":"nominal","scale":{"domain":["4mo","6mo","8mo"],"range":["square","circle","diamond"]},"legend":null},
       "size":{"field":"a","type":"ordinal","scale":{"domain":["4mo","6mo","8mo"],"range":[45,45,70]},"legend":null},
       "fill":{"field":"geno","type":"nominal","scale":{"domain":["WT","PS2APP"],"range":["#5DB4E5","#E4AA2B"]},"legend":{"title":null,"orient":"none","legendX":769.8,"legendY":-61.5,"direction":"vertical","symbolType":"square","symbolSize":150,"symbolStrokeColor":"#111","symbolStrokeWidth":1.8,"symbolOpacity":1,"labelFontSize":13.5,"labelColor":"#111","labelAlign":"right","labelOffset":-21,"rowPadding":-5.3,"padding":0}}}},
    {"data":{"name":"an"},"transform":[{"filter":"datum.p=='b1'"}],
     "mark":{"type":"point","filled":true,"opacity":1,"strokeWidth":0},
     "encoding":{"x":{"field":"xn","type":"quantitative","axis":null},"y":{"field":"n","type":"quantitative","axis":null},
       "shape":{"field":"a","type":"nominal","scale":{"domain":["4mo","6mo","8mo"],"range":["square","circle","diamond"]},"legend":null},
       "size":{"field":"a","type":"ordinal","scale":{"domain":["4mo","6mo","8mo"],"range":[45,45,70]},"legend":null},
       "color":{"field":"geno","type":"nominal","scale":{"domain":["WT","PS2APP"],"range":["#1E6EB6","#E9592A"]},"legend":null}}},
    {"data":{"name":"sig"},"transform":[{"filter":"datum.p=='b1'"}],
     "mark":{"type":"rule","strokeWidth":1.6,"color":"#111"},
     "encoding":{"x":{"field":"x1","type":"quantitative","axis":null},"x2":{"field":"x2"}}},
    {"data":{"name":"sig"},"transform":[{"filter":"datum.p=='b1'"},{"fold":["x1","x2"],"as":["k","xe"]}],
     "mark":{"type":"tick","orient":"vertical","size":4.5,"thickness":1.6,"yOffset":2.2,"color":"#111"},
     "encoding":{"x":{"field":"xe","type":"quantitative","axis":null}}},
    {"data":{"name":"sig"},"transform":[{"filter":"datum.p=='b1'"},{"calculate":"(datum.x1+datum.x2)/2","as":"xm"}],
     "mark":{"type":"text","fontSize":17,"dy":2,"baseline":"alphabetic","color":"#111"},
     "encoding":{"x":{"field":"xm","type":"quantitative","axis":null},"text":{"field":"s"}}},
    {"data":{"name":"sig"},"transform":[{"filter":"datum.p=='b1'"},{"calculate":"(datum.x1+datum.x2)/2","as":"xm"}],
     "mark":{"type":"text","fontSize":11,"dy":-14,"baseline":"alphabetic","color":"#111"},
     "encoding":{"x":{"field":"xm","type":"quantitative","axis":null},"text":{"field":"t"}}},
    {"data":{"name":"bars"},"transform":[{"filter":"datum.p=='b1'"}],
     "mark":{"type":"text","fontSize":13,"dy":15.5,"baseline":"alphabetic","color":"#111"},
     "encoding":{"y":{"datum":0,"axis":null},"text":{"field":"c"}}},
    {"data":{"name":"bars"},"transform":[{"filter":"datum.p=='b1'"},{"joinaggregate":[{"op":"mean","field":"x","as":"xa"}],"groupby":["g"]},{"filter":"datum.c=='F'"}],
     "mark":{"type":"text","fontSize":13,"dy":25.7,"baseline":"alphabetic","color":"#111"},
     "encoding":{"x":{"field":"xa","type":"quantitative","axis":null},"y":{"datum":0,"axis":null},"text":{"field":"a"}}}
   ]},
  {"width":340,"height":177,
   "title":{"text":"24 h","fontSize":12,"fontWeight":"normal","anchor":"middle","frame":"group","offset":5,"dx":-7.3,"dy":7.4},
   "resolve":{"axis":{"y":"independent"}},
   "encoding":{"x":{"field":"x","type":"quantitative","scale":{"domain":[0,340],"nice":false,"zero":false},"axis":null},
               "y":{"field":"y","type":"quantitative","scale":{"domain":[0,30],"nice":false,"zero":true},"axis":null}},
   "layer":[
    {"data":{"values":[{}]},"mark":{"type":"rule","strokeWidth":1.8,"color":"#111"},
     "encoding":{"x":{"datum":0,"axis":null},"y":{"datum":0,"axis":{"orient":"left","values":[0,5,10,15,20,25,30],"domain":false,"grid":false,"tickSize":5,"tickWidth":1.5,"tickColor":"#111","labelFontSize":13,"labelColor":"#111","labelPadding":3,"title":"Exploration time (s)","titleFontSize":13,"titleFontWeight":"normal","titleColor":"#111","titlePadding":2}},"y2":{"datum":30}}},
    {"data":{"name":"bars"},"transform":[{"filter":"datum.p=='b24' && datum.c=='F'"}],
     "mark":{"type":"bar","width":8.5,"stroke":"#111","strokeWidth":1.8},
     "encoding":{"y":{"field":"y","type":"quantitative","axis":{"orient":"left","values":[2.5,7.5,12.5,17.5,22.5,27.5],"domain":false,"grid":false,"labels":false,"tickSize":3,"tickWidth":1.5,"tickColor":"#111","title":null}},
       "fill":{"field":"geno","type":"nominal","scale":{"domain":["WT","PS2APP"],"range":["#5DB4E5","#E4AA2B"]},"legend":{"title":null,"orient":"none","legendX":769.8,"legendY":-61.5,"direction":"vertical","symbolType":"square","symbolSize":150,"symbolStrokeColor":"#111","symbolStrokeWidth":1.8,"symbolOpacity":1,"labelFontSize":13.5,"labelColor":"#111","labelAlign":"right","labelOffset":-21,"rowPadding":-5.3,"padding":0}}}},
    {"data":{"name":"bars"},"transform":[{"filter":"datum.p=='b24' && datum.c=='N'"}],
     "mark":{"type":"bar","width":8.5,"stroke":"#111","strokeWidth":1.8},
     "encoding":{"color":{"field":"geno","type":"nominal","scale":{"domain":["WT","PS2APP"],"range":["#1E6EB6","#E9592A"]},"legend":null}}},
    {"data":{"name":"bars"},"transform":[{"filter":"datum.p=='b24'"}],
     "mark":{"type":"rule","strokeWidth":1.8,"color":"#111"},"encoding":{"y2":{"field":"e"}}},
    {"data":{"name":"bars"},"transform":[{"filter":"datum.p=='b24'"}],
     "mark":{"type":"tick","orient":"horizontal","size":7,"thickness":1.8,"color":"#111"},
     "encoding":{"y":{"field":"e","type":"quantitative","axis":null}}},
    {"data":{"name":"an"},"transform":[{"filter":"datum.p=='b24'"}],
     "mark":{"type":"rule","strokeDash":[3,2],"strokeWidth":1.1,"color":"#808080"},
     "encoding":{"x":{"field":"xf","type":"quantitative","axis":null},"y":{"field":"f","type":"quantitative","axis":null},"x2":{"field":"xn"},"y2":{"field":"n"}}},
    {"data":{"name":"an"},"transform":[{"filter":"datum.p=='b24'"}],
     "mark":{"type":"point","filled":true,"opacity":1,"strokeWidth":0},
     "encoding":{"x":{"field":"xf","type":"quantitative","axis":null},"y":{"field":"f","type":"quantitative","axis":null},
       "shape":{"field":"a","type":"nominal","scale":{"domain":["4mo","6mo","8mo"],"range":["square","circle","diamond"]},"legend":null},
       "size":{"field":"a","type":"ordinal","scale":{"domain":["4mo","6mo","8mo"],"range":[45,45,70]},"legend":null},
       "fill":{"field":"geno","type":"nominal","scale":{"domain":["WT","PS2APP"],"range":["#5DB4E5","#E4AA2B"]},"legend":{"title":null,"orient":"none","legendX":769.8,"legendY":-61.5,"direction":"vertical","symbolType":"square","symbolSize":150,"symbolStrokeColor":"#111","symbolStrokeWidth":1.8,"symbolOpacity":1,"labelFontSize":13.5,"labelColor":"#111","labelAlign":"right","labelOffset":-21,"rowPadding":-5.3,"padding":0}}}},
    {"data":{"name":"an"},"transform":[{"filter":"datum.p=='b24'"}],
     "mark":{"type":"point","filled":true,"opacity":1,"strokeWidth":0},
     "encoding":{"x":{"field":"xn","type":"quantitative","axis":null},"y":{"field":"n","type":"quantitative","axis":null},
       "shape":{"field":"a","type":"nominal","scale":{"domain":["4mo","6mo","8mo"],"range":["square","circle","diamond"]},"legend":null},
       "size":{"field":"a","type":"ordinal","scale":{"domain":["4mo","6mo","8mo"],"range":[45,45,70]},"legend":null},
       "color":{"field":"geno","type":"nominal","scale":{"domain":["WT","PS2APP"],"range":["#1E6EB6","#E9592A"]},"legend":null}}},
    {"data":{"name":"sig"},"transform":[{"filter":"datum.p=='b24'"}],
     "mark":{"type":"rule","strokeWidth":1.6,"color":"#111"},
     "encoding":{"x":{"field":"x1","type":"quantitative","axis":null},"x2":{"field":"x2"}}},
    {"data":{"name":"sig"},"transform":[{"filter":"datum.p=='b24'"},{"fold":["x1","x2"],"as":["k","xe"]}],
     "mark":{"type":"tick","orient":"vertical","size":4.5,"thickness":1.6,"yOffset":2.2,"color":"#111"},
     "encoding":{"x":{"field":"xe","type":"quantitative","axis":null}}},
    {"data":{"name":"sig"},"transform":[{"filter":"datum.p=='b24'"},{"calculate":"(datum.x1+datum.x2)/2","as":"xm"}],
     "mark":{"type":"text","fontSize":17,"dy":2,"baseline":"alphabetic","color":"#111"},
     "encoding":{"x":{"field":"xm","type":"quantitative","axis":null},"text":{"field":"s"}}},
    {"data":{"name":"sig"},"transform":[{"filter":"datum.p=='b24'"},{"calculate":"(datum.x1+datum.x2)/2","as":"xm"}],
     "mark":{"type":"text","fontSize":11,"dy":-14,"baseline":"alphabetic","color":"#111"},
     "encoding":{"x":{"field":"xm","type":"quantitative","axis":null},"text":{"field":"t"}}},
    {"data":{"name":"bars"},"transform":[{"filter":"datum.p=='b24'"}],
     "mark":{"type":"text","fontSize":13,"dy":15.5,"baseline":"alphabetic","color":"#111"},
     "encoding":{"y":{"datum":0,"axis":null},"text":{"field":"c"}}},
    {"data":{"name":"bars"},"transform":[{"filter":"datum.p=='b24'"},{"joinaggregate":[{"op":"mean","field":"x","as":"xa"}],"groupby":["g"]},{"filter":"datum.c=='F'"}],
     "mark":{"type":"text","fontSize":13,"dy":25.7,"baseline":"alphabetic","color":"#111"},
     "encoding":{"x":{"field":"xa","type":"quantitative","axis":null},"y":{"datum":0,"axis":null},"text":{"field":"a"}}}
   ]}
  ]}
 ]}
]
}
